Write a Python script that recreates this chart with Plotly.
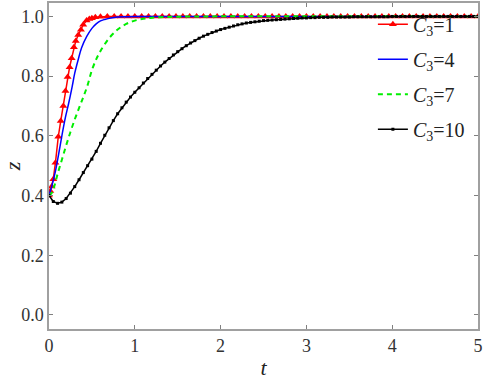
import plotly.graph_objects as go

# ---- data ----
red_t = [0, 0.015, 0.031, 0.05, 0.075, 0.108, 0.137, 0.167, 0.192, 0.217, 0.24, 0.264,
         0.29, 0.312, 0.341, 0.372, 0.399, 0.438, 0.47, 0.5, 0.54,
         0.6, 0.68, 0.76, 0.84, 0.92, 1.0, 1.08, 1.16, 1.24, 1.32, 1.4, 1.48, 1.56, 1.64,
         1.72, 1.8, 1.88, 1.96, 2.04, 2.12, 2.2, 2.28, 2.36, 2.44, 2.52, 2.6, 2.68, 2.76,
         2.84, 2.92, 3.0, 3.08, 3.16, 3.24, 3.32, 3.4, 3.48, 3.56, 3.64, 3.72, 3.8, 3.88,
         3.96, 4.04, 4.12, 4.2, 4.28, 4.36, 4.44, 4.52, 4.6, 4.68, 4.76, 4.84, 4.92, 5.0]
red_z = [0.40, 0.415, 0.43, 0.455, 0.51, 0.597, 0.65, 0.70, 0.75, 0.797, 0.83, 0.86,
         0.897, 0.918, 0.938, 0.955, 0.972, 0.986, 0.991, 0.994, 0.997,
         0.999, 1.0, 1.0, 1.0, 1.0, 1.0, 1.0, 1.0, 1.0, 1.0, 1.0, 1.0, 1.0, 1.0,
         1.0, 1.0, 1.0, 1.0, 1.0, 1.0, 1.0, 1.0, 1.0, 1.0, 1.0, 1.0, 1.0, 1.0,
         1.0, 1.0, 1.0, 1.0, 1.0, 1.0, 1.0, 1.0, 1.0, 1.0, 1.0, 1.0, 1.0, 1.0,
         1.0, 1.0, 1.0, 1.0, 1.0, 1.0, 1.0, 1.0, 1.0, 1.0, 1.0, 1.0, 1.0, 1.0]

blue_t = [0, 0.04, 0.07, 0.11, 0.15, 0.19, 0.23, 0.27, 0.3, 0.34, 0.38, 0.44, 0.5,
          0.55, 0.6, 0.65, 0.72, 0.8, 0.9, 1.0, 5.0]
blue_z = [0.40, 0.44, 0.475, 0.535, 0.60, 0.66, 0.71, 0.765, 0.81, 0.855, 0.895, 0.933,
          0.96, 0.975, 0.985, 0.99, 0.995, 0.998, 0.999, 1.0, 1.0]

green_t = [0, 0.03, 0.06, 0.1, 0.15, 0.2, 0.25, 0.3, 0.35, 0.4, 0.45, 0.5, 0.55, 0.6,
           0.7, 0.8, 0.9, 1.0, 1.1, 1.2, 1.35, 1.5, 1.8, 5.0]
green_z = [0.40, 0.408, 0.43, 0.472, 0.52, 0.568, 0.613, 0.655, 0.693, 0.73, 0.77, 0.82,
           0.856, 0.884, 0.927, 0.956, 0.975, 0.986, 0.992, 0.996, 0.998, 0.999, 1.0, 1.0]

black_t = [0.0, 0.05, 0.1, 0.15, 0.2, 0.25, 0.3, 0.35, 0.4, 0.45, 0.5, 0.55, 0.6, 0.65,
           0.7, 0.75, 0.8, 0.85, 0.9, 0.95, 1.0, 1.05, 1.1, 1.15, 1.2, 1.25, 1.3, 1.35,
           1.4, 1.45, 1.5, 1.55, 1.6, 1.65, 1.7, 1.75, 1.8, 1.85, 1.9, 1.95, 2.0, 2.05,
           2.1, 2.15, 2.2, 2.25, 2.3, 2.35, 2.4, 2.45, 2.5, 2.55, 2.6, 2.65, 2.7, 2.75,
           2.8, 2.85, 2.9, 2.95, 3.0, 3.05, 3.1, 3.15, 3.2, 3.25, 3.3, 3.35, 3.4, 3.45,
           3.5, 3.55, 3.6, 3.65, 3.7, 3.75, 3.8, 3.85, 3.9, 3.95, 4.0, 4.05, 4.1, 4.15,
           4.2, 4.25, 4.3, 4.35, 4.4, 4.45, 4.5, 4.55, 4.6, 4.65, 4.7, 4.75, 4.8, 4.85,
           4.9, 4.95, 5.0]
black_z = [0.400, 0.380, 0.374, 0.378, 0.390, 0.408, 0.430, 0.453, 0.477, 0.500, 0.522,
           0.548, 0.575, 0.602, 0.627, 0.651, 0.674, 0.694, 0.713, 0.730, 0.746, 0.761,
           0.777, 0.792, 0.806, 0.820, 0.834, 0.847, 0.859, 0.871, 0.882, 0.892, 0.902,
           0.911, 0.919, 0.927, 0.934, 0.940, 0.946, 0.951, 0.956, 0.960, 0.964, 0.968,
           0.972, 0.975, 0.978, 0.980, 0.982, 0.984, 0.986, 0.987, 0.988, 0.989, 0.990,
           0.991, 0.992, 0.993, 0.994, 0.995, 0.995, 0.996, 0.996, 0.997, 0.997, 0.997,
           0.998, 0.998, 0.998, 0.998, 0.998, 0.999, 0.999, 0.999, 0.999, 0.999, 0.999,
           0.999, 0.999, 0.999, 1.0, 1.0, 1.0, 1.0, 1.0, 1.0, 1.0, 1.0, 1.0, 1.0, 1.0,
           1.0, 1.0, 1.0, 1.0, 1.0, 1.0, 1.0, 1.0, 1.0, 1.0]

names = ["<i>C</i><sub>3</sub>=1", "<i>C</i><sub>3</sub>=4",
         "<i>C</i><sub>3</sub>=7", "<i>C</i><sub>3</sub>=10"]

x_ticks = [0, 1, 2, 3, 4, 5]
y_ticks = [0.0, 0.2, 0.4, 0.6, 0.8, 1.0]
y_tick_text = ["0.0", "0.2", "0.4", "0.6", "0.8", "1.0"]

SERIF = "Liberation Serif, Times New Roman, serif"

fig = go.Figure()
fig.add_trace(go.Scatter(x=red_t, y=red_z, name=names[0], mode="lines+markers",
                         legendgroup="a",
                         line=dict(color="#ff0000", width=1.5),
                         marker=dict(symbol="triangle-up", size=7, color="#ff0000")))
fig.add_trace(go.Scatter(x=blue_t, y=blue_z, name=names[1], mode="lines",
                         legendgroup="b",
                         line=dict(color="#0000ff", width=1.5, shape="spline")))
fig.add_trace(go.Scatter(x=green_t, y=green_z, name=names[2], mode="lines",
                         legendgroup="c",
                         line=dict(color="#00ee00", width=2, dash="5px,4px", shape="spline")))
fig.add_trace(go.Scatter(x=black_t, y=black_z, name=names[3], mode="lines+markers",
                         legendgroup="d",
                         line=dict(color="#000000", width=1.5),
                         marker=dict(symbol="square", size=3, color="#000000")))

axis_common = dict(showgrid=False, zeroline=False, showline=True, linecolor="#a0a0a0",
                   linewidth=1.5, mirror="ticks", ticks="inside", ticklen=4,
                   tickcolor="#808080", tickwidth=1, automargin=False,
                   ticklabeloverflow="allow",
                   tickfont=dict(family=SERIF, size=18, color="#333333"))

fig.update_xaxes(range=[0, 5], tickvals=x_ticks,
                 title=dict(text="<i>t</i>", font=dict(family=SERIF, size=22, color="#222222"),
                            standoff=4),
                 **axis_common)
fig.update_yaxes(range=[-0.047, 1.045], tickvals=y_ticks, ticktext=y_tick_text,
                 title=dict(text="<i>z</i>", font=dict(family=SERIF, size=22, color="#222222"),
                            standoff=4),
                 **axis_common)

fig.update_layout(
    width=484, height=383,
    margin=dict(l=49, r=6, t=3, b=54, autoexpand=False),
    paper_bgcolor="white", plot_bgcolor="white",
    font=dict(family=SERIF),
    showlegend=True,
    legend=dict(x=0.755, y=0.995, xanchor="left", yanchor="top",
                bgcolor="rgba(0,0,0,0)", borderwidth=0,
                font=dict(family=SERIF, size=20, color="#222222"),
                tracegroupgap=6, itemwidth=30),
)

fig.write_html("out.html", config={"displayModeBar": False},
               post_script="document.body.style.margin='0';document.body.style.padding='0';")
